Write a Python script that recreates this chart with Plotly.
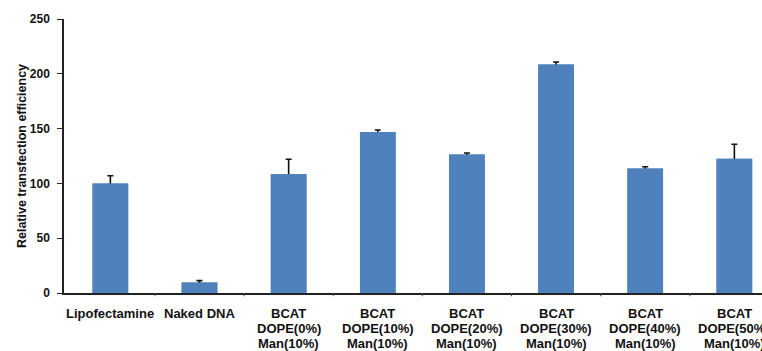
import plotly.graph_objects as go

categories = [
    "Lipofectamine",
    "Naked DNA",
    "BCAT<br>DOPE(0%)<br>Man(10%)",
    "BCAT<br>DOPE(10%)<br>Man(10%)",
    "BCAT<br>DOPE(20%)<br>Man(10%)",
    "BCAT<br>DOPE(30%)<br>Man(10%)",
    "BCAT<br>DOPE(40%)<br>Man(10%)",
    "BCAT<br>DOPE(50%)<br>Man(10%)",
]
efficiency = [100, 9.5, 108.5, 147, 126.3, 208.5, 113.5, 122.5]
error_plus = [7, 1.8, 13.5, 1.7, 1.4, 2.2, 1.7, 13.2]

y_ticks = [0, 50, 100, 150, 200, 250]

x_pos = list(range(len(categories)))
bar_color = "#4F81BD"
text_color = "#111111"
font_family = "Liberation Sans, Arial, sans-serif"

fig = go.Figure()
# Bars carrying the error whiskers; the lower half of each whisker falls inside the bar
fig.add_trace(
    go.Bar(
        x=x_pos,
        y=efficiency,
        width=0.4,
        marker=dict(color=bar_color, line=dict(width=0)),
        error_y=dict(
            type="data",
            array=error_plus,
            color=text_color,
            thickness=1.6,
            width=3,
        ),
    )
)
# Same bars drawn again on top so only the upper whisker stays visible
fig.add_trace(
    go.Bar(
        x=x_pos,
        y=efficiency,
        width=0.4,
        marker=dict(color=bar_color, line=dict(width=0)),
        hoverinfo="skip",
    )
)

fig.update_layout(
    width=762,
    height=351,
    margin=dict(l=64, r=0, t=19, b=58),
    paper_bgcolor="white",
    plot_bgcolor="white",
    showlegend=False,
    barmode="overlay",
    font=dict(family=font_family, color=text_color),
    xaxis=dict(
        tickmode="array",
        tickvals=x_pos,
        showticklabels=False,
        automargin=False,
        range=[-0.52, 7.31],
        showline=True,
        linecolor="#222222",
        linewidth=1.5,
        ticks="",
        showgrid=False,
        zeroline=False,
    ),
    yaxis=dict(
        range=[0, 250],
        tickmode="array",
        tickvals=y_ticks,
        ticktext=["<b>%d</b>" % v for v in y_ticks],
        tickfont=dict(size=12, family=font_family, color=text_color),
        ticks="outside",
        ticklen=5,
        tickwidth=1.2,
        tickcolor="#222222",
        ticklabelstandoff=5,
        automargin=False,
        showline=True,
        linecolor="#222222",
        linewidth=1.5,
        showgrid=False,
        zeroline=False,
        title=dict(
            text="<b>Relative transfection efficiency</b>",
            font=dict(size=12.5, family=font_family, color=text_color),
            standoff=0,
        ),
    ),
)

# Category labels, one line at a time for tight line spacing
for i, label in enumerate(categories):
    for j, line in enumerate(label.split("<br>")):
        fig.add_annotation(
            x=i,
            xref="x",
            y=0,
            yref="paper",
            yanchor="middle",
            yshift=-(20 + 15 * j),
            text="<b>%s</b>" % line,
            showarrow=False,
            font=dict(size=13, family=font_family, color=text_color),
        )

# Small boundary ticks between the category groups on the x axis
for b in [i + 0.5 for i in range(len(categories) - 1)]:
    fig.add_shape(
        type="line",
        xref="x",
        yref="paper",
        x0=b,
        x1=b,
        y0=0,
        y1=-0.012,
        line=dict(color="#444444", width=1),
    )

fig.write_html("out.html")
